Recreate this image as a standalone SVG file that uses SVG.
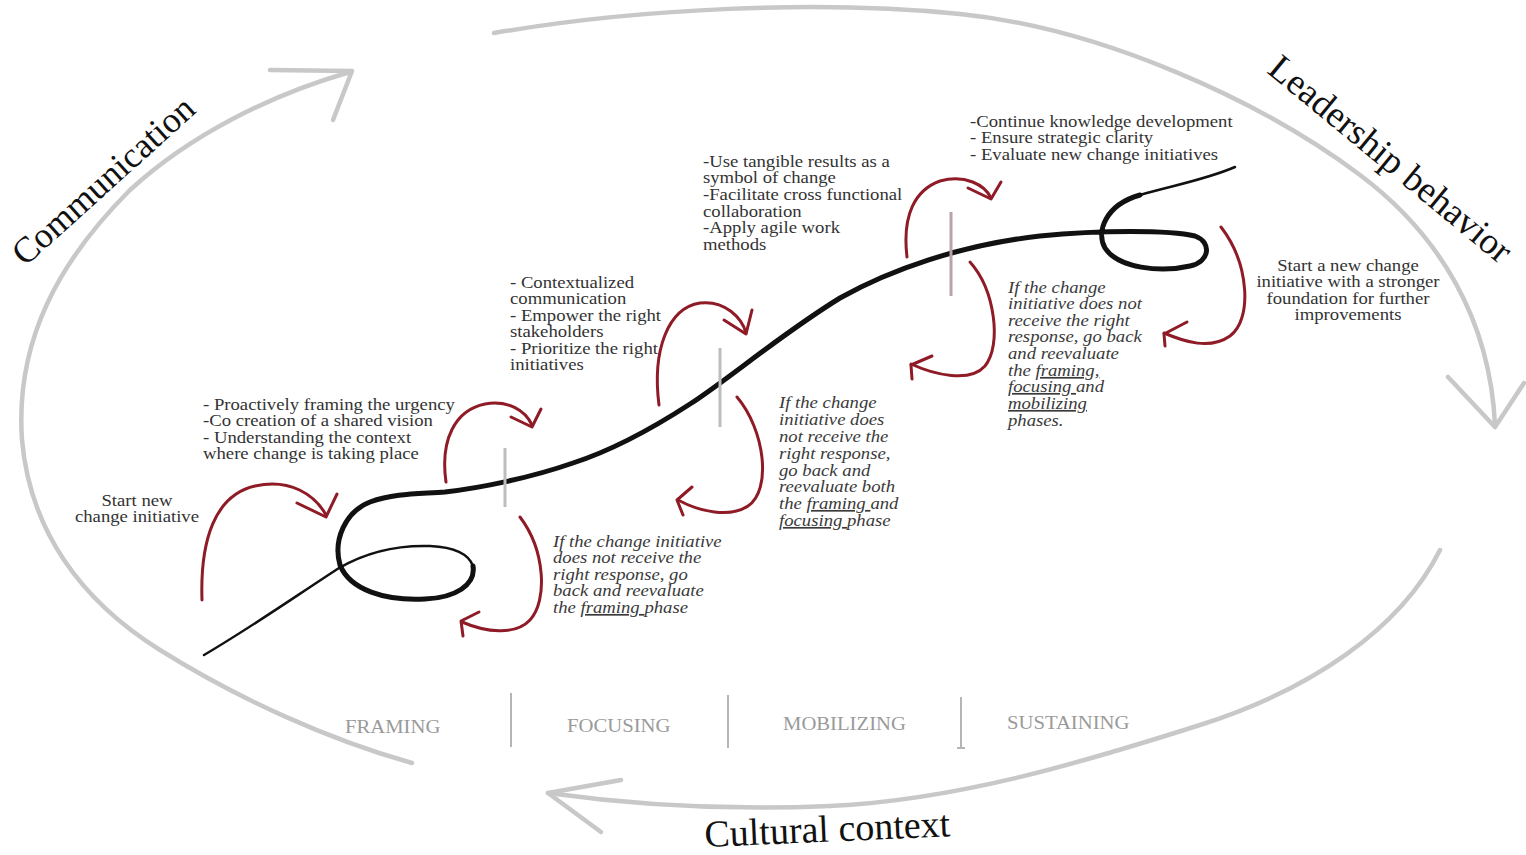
<svg xmlns="http://www.w3.org/2000/svg" width="1526" height="855" viewBox="0 0 1526 855">
<style>
.t{font-family:"Liberation Serif","Times New Roman",serif;font-size:17px;fill:#333}
.i{font-style:italic;fill:#3a3a3a}
.ph{font-family:"Liberation Serif","Times New Roman",serif;font-size:18px;fill:#9a9a9a}
.big{font-family:"Liberation Serif","Times New Roman",serif;font-size:37px;fill:#111}
.red{fill:none;stroke:#8e1b26;stroke-width:3;stroke-linecap:round;stroke-linejoin:round}
.gray{fill:none;stroke:#c8c8c8;stroke-width:4.5;stroke-linecap:round;stroke-linejoin:round}
.tick{stroke:#bdbdbd;stroke-width:3;fill:none}
.sep{stroke:#b5b5b5;stroke-width:2;fill:none}
.blk{fill:none;stroke:#111;stroke-linecap:round;stroke-linejoin:round}
</style>
<rect width="1526" height="855" fill="#fff"/>

<g id="ring">
<path class="gray" d="M412,763 C330,740 240,700 160,650 C80,600 30,530 22,440 C15,340 60,260 130,190 C190,135 270,95 350,72"/>
<polyline class="gray" points="270,70 352,71 333,120"/>
<path class="gray" d="M494,33 C640,8 820,0 960,14 C1100,28 1260,100 1360,175 C1440,235 1490,320 1495,425"/>
<polyline class="gray" points="1448,377 1495,427 1524,383"/>
<path class="gray" d="M1440,550 C1400,630 1310,690 1200,725 C1090,760 960,800 830,806 C720,811 620,803 548,793"/>
<polyline class="gray" points="621,780 548,793 601,832"/>
</g>

<g id="labels-ring">
<text class="big" x="25" y="267" transform="rotate(-42 25 267)" style="font-size:36px">Communication</text>
<text class="big" x="1266" y="72" transform="rotate(39.5 1266 72)">Leadership behavior</text>
<text class="big" x="705" y="847" transform="rotate(-2.5 705 847)" style="font-size:38px">Cultural context</text>
</g>

<g id="curve">
<path class="blk" stroke-width="2.5" d="M204,655 C250,628 290,600 339,568 C370,550 400,545 430,546 C450,547 468,552 473,566"/>
<path class="blk" stroke-width="5" d="M473,566 C476,585 455,598 425,599 C385,601 350,590 340,565 C333,540 345,512 370,502 C395,493 420,494 445,492 C480,488 530,478 573,463 C610,451 650,430 690,404 C730,378 780,335 840,298 C890,270 960,245 1040,236 C1100,230 1170,230 1195,236 C1212,242 1210,262 1190,266 C1160,273 1118,268 1105,248 C1096,232 1105,205 1140,195"/>
<path class="blk" stroke-width="2.5" d="M1140,195 C1170,186 1205,180 1235,167"/>
</g>

<g id="ticks">
<line class="tick" x1="505" y1="448" x2="505" y2="507"/>
<line class="tick" x1="720" y1="348" x2="720" y2="427"/>
<line class="tick" x1="951" y1="212" x2="951" y2="296" style="stroke:#b9a3a8"/>
</g>

<g id="connectors">
<path class="red" d="M202,600 C200,540 215,495 255,486 C290,478 315,495 326,515"/>
<polyline class="red" points="297,503 326,517 337,494"/>
<path class="red" d="M446,482 C440,440 455,410 485,404 C508,400 525,410 532,425"/>
<polyline class="red" points="511,417 532,427 541,409"/>
<path class="red" d="M520,517 C545,550 548,600 530,620 C515,636 485,632 462,622"/>
<polyline class="red" points="479,612 461,621 463,636"/>
<path class="red" d="M659,405 C652,350 668,308 700,303 C725,300 742,318 746,333"/>
<polyline class="red" points="724,320 746,334 752,310"/>
<path class="red" d="M737,397 C765,430 772,490 748,506 C730,518 700,512 678,500"/>
<polyline class="red" points="692,487 677,500 683,515"/>
<path class="red" d="M907,257 C902,215 915,190 940,181 C965,174 985,185 991,198"/>
<polyline class="red" points="968,188 991,199 1001,182"/>
<path class="red" d="M970,262 C995,290 1002,345 985,366 C970,383 935,375 911,364"/>
<polyline class="red" points="932,356 911,365 912,379"/>
<path class="red" d="M1221,227 C1250,265 1252,320 1230,336 C1210,350 1185,342 1164,333"/>
<polyline class="red" points="1187,322 1164,334 1165,346"/>
</g>

<g id="phases">
<line class="sep" x1="511" y1="693" x2="511" y2="747"/>
<line class="sep" x1="728" y1="695" x2="728" y2="748"/>
<line class="sep" x1="961" y1="697" x2="961" y2="749"/>
<line class="sep" x1="957" y1="748" x2="965" y2="748"/>
<g transform="translate(345,0) scale(1.15,1)"><text class="ph" x="0" y="733">FRAMING</text></g>
<g transform="translate(567,0) scale(1.15,1)"><text class="ph" x="0" y="732">FOCUSING</text></g>
<g transform="translate(783,0) scale(1.15,1)"><text class="ph" x="0" y="730">MOBILIZING</text></g>
<g transform="translate(1007,0) scale(1.15,1)"><text class="ph" x="0" y="729">SUSTAINING</text></g>
</g>

<g id="start-node" transform="translate(137,0) scale(1.1,1)">
<text class="t" x="0" y="506" text-anchor="middle">Start new</text>
<text class="t" x="0" y="522" text-anchor="middle">change initiative</text>
</g>

<g id="framing-node" transform="translate(203,0) scale(1.1,1)">
<text class="t" x="0" y="410">- Proactively framing the urgency</text>
<text class="t" x="0" y="426">-Co creation of a shared vision</text>
<text class="t" x="0" y="443">- Understanding the context</text>
<text class="t" x="0" y="459">where change is taking place</text>
</g>

<g id="focusing-node" transform="translate(510,0) scale(1.1,1)">
<text class="t" x="0" y="288">- Contextualized</text>
<text class="t" x="0" y="304">communication</text>
<text class="t" x="0" y="321">- Empower the right</text>
<text class="t" x="0" y="337">stakeholders</text>
<text class="t" x="0" y="354">- Prioritize the right</text>
<text class="t" x="0" y="370">initiatives</text>
</g>

<g id="mobilizing-node" transform="translate(703,0) scale(1.1,1)">
<text class="t" x="0" y="167">-Use tangible results as a</text>
<text class="t" x="0" y="183">symbol of change</text>
<text class="t" x="0" y="200">-Facilitate cross functional</text>
<text class="t" x="0" y="217">collaboration</text>
<text class="t" x="0" y="233">-Apply agile work</text>
<text class="t" x="0" y="250">methods</text>
</g>

<g id="sustaining-node" transform="translate(970,0) scale(1.1,1)">
<text class="t" x="0" y="127">-Continue knowledge development</text>
<text class="t" x="0" y="143">- Ensure strategic clarity</text>
<text class="t" x="0" y="160">- Evaluate new change initiatives</text>
</g>

<g id="restart-node" transform="translate(1348,0) scale(1.1,1)">
<text class="t" x="0" y="271" text-anchor="middle">Start a new change</text>
<text class="t" x="0" y="287" text-anchor="middle">initiative with a stronger</text>
<text class="t" x="0" y="304" text-anchor="middle">foundation for further</text>
<text class="t" x="0" y="320" text-anchor="middle">improvements</text>
</g>

<g id="framing-feedback" transform="translate(553,0) scale(1.1,1)">
<text class="t i" x="0" y="547">If the change initiative</text>
<text class="t i" x="0" y="563">does not receive the</text>
<text class="t i" x="0" y="580">right response, go</text>
<text class="t i" x="0" y="596">back and reevaluate</text>
<text class="t i" x="0" y="613">the <tspan text-decoration="underline">framing </tspan>phase</text>
</g>

<g id="focusing-feedback" transform="translate(779,0) scale(1.1,1)">
<text class="t i" x="0" y="408">If the change</text>
<text class="t i" x="0" y="425">initiative does</text>
<text class="t i" x="0" y="442">not receive the</text>
<text class="t i" x="0" y="459">right response,</text>
<text class="t i" x="0" y="476">go back and</text>
<text class="t i" x="0" y="492">reevaluate both</text>
<text class="t i" x="0" y="509">the <tspan text-decoration="underline">framing </tspan>and</text>
<text class="t i" x="0" y="526"><tspan text-decoration="underline">focusing </tspan>phase</text>
</g>

<g id="mobilizing-feedback" transform="translate(1008,0) scale(1.1,1)">
<text class="t i" x="0" y="293">If the change</text>
<text class="t i" x="0" y="309">initiative does not</text>
<text class="t i" x="0" y="326">receive the right</text>
<text class="t i" x="0" y="342">response, go back</text>
<text class="t i" x="0" y="359">and reevaluate</text>
<text class="t i" x="0" y="376">the <tspan text-decoration="underline">framing,</tspan></text>
<text class="t i" x="0" y="392"><tspan text-decoration="underline">focusing </tspan>and</text>
<text class="t i" x="0" y="409"><tspan text-decoration="underline">mobilizing</tspan></text>
<text class="t i" x="0" y="426">phases.</text>
</g>
</svg>
